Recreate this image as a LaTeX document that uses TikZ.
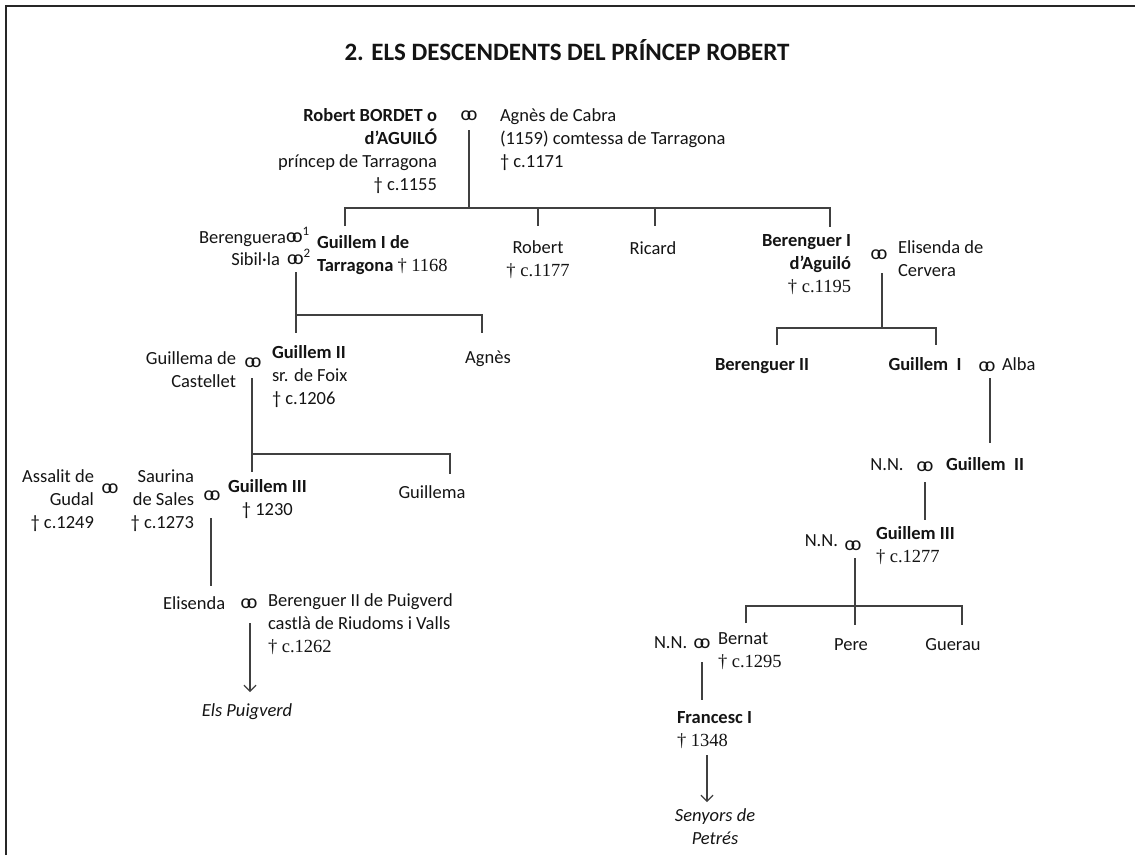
\documentclass[tikz,border=0pt]{standalone}
\usepackage{fontspec}
\setmainfont{Carlito}
\newfontfamily\numfont{Liberation Serif}
\usetikzlibrary{arrows.meta}
\newcommand\mrg{{\fontsize{20}{23}\selectfont o\kern-0.22em o}}
\newcommand\rln[1]{\begin{tabular}[t]{@{}r@{}}#1\end{tabular}}
\newcommand\lln[1]{\begin{tabular}[t]{@{}l@{}}#1\end{tabular}}
\newcommand\cln[1]{\begin{tabular}[t]{@{}c@{}}#1\end{tabular}}
\begin{document}
\begin{tikzpicture}[x=1pt,y=-1pt,
  every node/.style={inner sep=0pt,outer sep=0pt,text=black!92,font=\fontsize{18.5}{23}\selectfont},
  mar/.style={anchor=center},
  lab/.style={anchor=base},
  labl/.style={anchor=base west},
  labr/.style={anchor=base east},
  con/.style={draw=black!75,line width=1.2pt},
  arr/.style={con,-{Straight Barb[length=6pt,width=12pt]}},
  frame/.style={draw=black!85,line width=2pt}]
\useasboundingbox (0,0) rectangle (1135,855);
\draw[frame] (6,855) -- (6,6) -- (1135,6);

\node[font=\fontsize{25}{30}\selectfont\bfseries] (title) at (567,50) {2. ELS DESCENDENTS DEL PRÍNCEP ROBERT};

% generation 1
\node[labr] (rob) at (437,121) {\rln{\textbf{Robert BORDET o}\\ \textbf{d’AGUILÓ}\\ príncep de Tarragona\\ † c.1155}};
\node[mar] (m1) at (469,116) {\mrg};
\node[labl] (agn) at (500,121) {\lln{Agnès de Cabra\\ (1159) comtessa de Tarragona\\ † c.1171}};

% generation 2
\node[labr] (bga) at (286,243) {Berenguera};
\node[labl] (m2a) at (286,242) {\mrg\textsuperscript{1}};
\node[labr] (sib) at (280,265) {Sibil·la};
\node[labl] (m2b) at (287,264) {\mrg\textsuperscript{2}};
\node[labl] (g1) at (317,248) {\lln{\textbf{Guillem I de}\\ \textbf{Tarragona} {\numfont † 1168}}};
\node[lab] (rob2) at (538,253) {\cln{Robert\\ {\numfont † c.1177}}};
\node[lab] (ric) at (653,254) {Ricard};
\node[labr] (ber1) at (851,246) {\rln{\textbf{Berenguer I}\\ \textbf{d’Aguiló}\\ {\numfont † c.1195}}};
\node[mar] (m3) at (879,255) {\mrg};
\node[labl] (eli) at (898,253) {\lln{Elisenda de\\ Cervera}};

% generation 3 right
\node[lab] (ber2) at (762,370) {\textbf{Berenguer II}};
\node[lab] (gI) at (925,370) {\textbf{Guillem\ \ I}};
\node[mar] (m4) at (987,367) {\mrg};
\node[labl] (alba) at (1002,370) {Alba};

\node[lab] (nn1) at (887,470) {N.N.};
\node[mar] (m5) at (925,467) {\mrg};
\node[labl] (gII2) at (946,470) {\textbf{Guillem\ \ II}};

\node[labr] (nn2) at (838,546) {N.N.};
\node[mar] (m6) at (853,546) {\mrg};
\node[labl] (gIII2) at (876,539) {\lln{\textbf{Guillem III}\\ {\numfont † c.1277}}};

\node[labl] (nn3) at (654,648) {N.N.};
\node[mar] (m7) at (702,644) {\mrg};
\node[labl] (bern) at (718,644) {\lln{Bernat\\ {\numfont † c.1295}}};
\node[lab] (pere) at (851,650) {Pere};
\node[lab] (guer) at (953,650) {Guerau};
\node[labl] (fra) at (677,723) {\lln{\textbf{Francesc I}\\ {\numfont † 1348}}};
\node[lab] (sen) at (715,821) {\cln{\itshape Senyors de\\ \itshape Petrés}};

% generation 3 left
\node[labr] (gdc) at (236,364) {\rln{Guillema de\\ Castellet}};
\node[mar] (m8) at (253,363) {\mrg};
\node[labl] (gII) at (272,358) {\lln{\textbf{Guillem II}\\ sr. de Foix\\ † c.1206}};
\node[lab] (agn2) at (488,363) {Agnès};

\node[labr] (ass) at (94,482) {\rln{Assalit de\\ Gudal\\ † c.1249}};
\node[mar] (m9) at (110,489) {\mrg};
\node[labr] (sau) at (194,482) {\rln{Saurina\\ de Sales\\ † c.1273}};
\node[mar] (m10) at (212,496) {\mrg};
\node[labl] (gIII) at (228,492) {\cln{\textbf{Guillem III}\\ † 1230}};
\node[lab] (gma) at (432,498) {Guillema};

\node[labl] (elis) at (163,609) {Elisenda};
\node[mar] (m11) at (249,604) {\mrg};
\node[labl] (bpv) at (268,606) {\lln{Berenguer II de Puigverd\\ castlà de Riudoms i Valls\\ {\numfont † c.1262}}};
\node[lab] (puig) at (247,716) {\itshape Els Puigverd};

% connector coordinates
\coordinate (m1d) at (469,130);
\coordinate (j1) at (469,208);
\coordinate (t1) at (345,226);
\coordinate (t2) at (538,226);
\coordinate (t3) at (655,226);
\coordinate (t4) at (830,227);

\coordinate (m2d) at (296,272);
\coordinate (j2) at (296,315);
\coordinate (t5) at (296,333);
\coordinate (t6) at (482,333);

\coordinate (m3d) at (882,273);
\coordinate (j3) at (882,328);
\coordinate (t7) at (777,345);
\coordinate (t8) at (936,345);

\coordinate (m4d) at (990,378);
\coordinate (t9) at (990,443);

\coordinate (m5d) at (925,482);
\coordinate (t10) at (925,520);

\coordinate (m6d) at (855,558);
\coordinate (j6) at (855,606);
\coordinate (t11) at (746,623);
\coordinate (t12) at (855,625);
\coordinate (t13) at (962,625);

\coordinate (m7d) at (702,662);
\coordinate (t14) at (702,700);
\coordinate (a1) at (707,755);
\coordinate (a2) at (707,802);

\coordinate (m8d) at (252,378);
\coordinate (j8) at (252,454);
\coordinate (t15) at (252,472);
\coordinate (t16) at (450,474);

\coordinate (m10d) at (211,518);
\coordinate (t17) at (211,586);
\coordinate (a3) at (250,623);
\coordinate (a4) at (250,692);

% connectors
\draw[con] (m1d) -- (j1);
\draw[con] (t1) -- (t1|-j1) -- (t4|-j1) -- (t4);
\draw[con] (t2|-j1) -- (t2);
\draw[con] (t3|-j1) -- (t3);

\draw[con] (m2d) -- (t5);
\draw[con] (j2) -- (t6|-j2) -- (t6);

\draw[con] (m3d) -- (j3);
\draw[con] (t7) -- (t7|-j3) -- (t8|-j3) -- (t8);

\draw[con] (m4d) -- (t9);
\draw[con] (m5d) -- (t10);

\draw[con] (m6d) -- (t12);
\draw[con] (t11) -- (t11|-j6) -- (t13|-j6) -- (t13);

\draw[con] (m7d) -- (t14);
\draw[arr] (a1) -- (a2);

\draw[con] (m8d) -- (t15);
\draw[con] (j8) -- (t16|-j8) -- (t16);

\draw[con] (m10d) -- (t17);
\draw[arr] (a3) -- (a4);
\end{tikzpicture}
\end{document}
